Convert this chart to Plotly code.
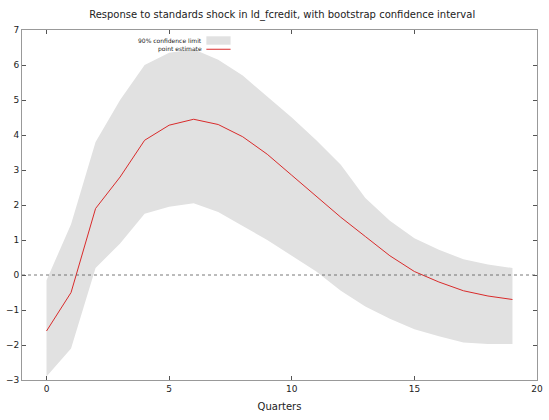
import plotly.graph_objects as go

quarters = list(range(20))
point_estimate = [-1.6, -0.5, 1.9, 2.8, 3.85, 4.28, 4.45, 4.3, 3.95, 3.45,
                  2.85, 2.25, 1.65, 1.1, 0.55, 0.1, -0.2, -0.45, -0.6, -0.7]
upper = [-0.15, 1.45, 3.8, 5.0, 6.0, 6.35, 6.45, 6.15, 5.7, 5.1,
         4.5, 3.85, 3.15, 2.2, 1.55, 1.05, 0.72, 0.45, 0.3, 0.2]
lower = [-2.9, -2.1, 0.2, 0.9, 1.75, 1.95, 2.05, 1.8, 1.4, 1.0,
         0.55, 0.1, -0.45, -0.9, -1.25, -1.55, -1.75, -1.93, -1.97, -1.97]

title = "Response to standards shock in ld_fcredit, with bootstrap confidence interval"
xlabel = "Quarters"
band_label = "90% confidence limit"
line_label = "point estimate"

band_color = "#e1e1e1"
line_color = "#d92b2b"
font = "DejaVu Sans"

fig = go.Figure()
fig.add_trace(go.Scatter(x=quarters, y=upper, mode="lines", line=dict(width=0),
                         showlegend=False, hoverinfo="skip"))
fig.add_trace(go.Scatter(x=quarters, y=lower, mode="lines", line=dict(width=0),
                         fill="tonexty", fillcolor=band_color, showlegend=False,
                         name=band_label))
fig.add_trace(go.Scatter(x=quarters, y=point_estimate, mode="lines",
                         line=dict(color=line_color, width=1), showlegend=False,
                         name=line_label))

# zero line
fig.add_shape(type="line", xref="paper", yref="y", x0=0, x1=1, y0=0, y1=0,
              line=dict(color="#555", width=0.8, dash="dot"))

# custom gnuplot-style legend (text left of the key)
fig.add_annotation(xref="paper", yref="paper", x=0.353, y=0.97, xanchor="right",
                   yanchor="middle", text=band_label, showarrow=False,
                   font=dict(family=font, size=6, color="#222"))
fig.add_shape(type="rect", xref="paper", yref="paper", x0=0.358, x1=0.405,
              y0=0.958, y1=0.982, fillcolor=band_color, line=dict(width=0))
fig.add_annotation(xref="paper", yref="paper", x=0.353, y=0.945, xanchor="right",
                   yanchor="middle", text=line_label, showarrow=False,
                   font=dict(family=font, size=6, color="#222"))
fig.add_shape(type="line", xref="paper", yref="paper", x0=0.358, x1=0.405,
              y0=0.945, y1=0.945, line=dict(color=line_color, width=1))

fig.update_layout(
    width=549, height=420,
    margin=dict(l=21, r=6, t=30, b=40),
    paper_bgcolor="white", plot_bgcolor="white",
    title=dict(text=title, x=0.514, xanchor="center", y=0.965, yanchor="middle",
               font=dict(family=font, size=10, color="#222")),
    font=dict(family=font, size=9, color="#222"),
)
fig.update_xaxes(range=[-1, 20], tickvals=[0, 5, 10, 15, 20], ticks="inside",
                 ticklen=4, tickcolor="#555", showgrid=False, zeroline=False,
                 showline=True, linecolor="#999", linewidth=1, mirror="ticks",
                 title=dict(text=xlabel, font=dict(family=font, size=10), standoff=10),
                 tickfont=dict(family=font, size=9, color="#222"))
fig.update_yaxes(range=[-3, 7], dtick=1, ticks="inside", ticklen=4, tickcolor="#555",
                 showgrid=False, zeroline=False, showline=True, linecolor="#999",
                 linewidth=1, mirror="ticks",
                 tickfont=dict(family=font, size=9, color="#222"))

fig.write_html("out.html")
